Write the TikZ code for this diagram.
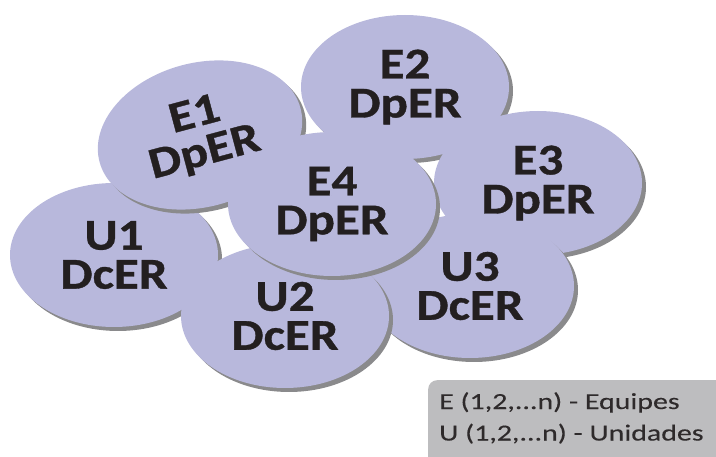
\documentclass[tikz,border=0pt]{standalone}
\usepackage{fontspec}
\setmainfont{Carlito}
\newfontfamily\grossa[FakeStretch=1.16, FakeBold=0.8]{Carlito}
\newfontfamily\larga[FakeStretch=1.3, FakeBold=0.2]{Carlito}
\definecolor{lavanda}{RGB}{184,184,220}
\definecolor{sombra}{RGB}{138,138,140}
\definecolor{legenda}{RGB}{189,189,191}
\definecolor{tinta}{RGB}{35,31,32}
\usetikzlibrary{positioning}
\usetikzlibrary{shapes.geometric, shadows}

\tikzset{
  grupo/.style={ellipse, fill=lavanda, minimum width=208pt, minimum height=144pt,
    inner sep=0pt, text=tinta, align=center,
    font=\fontsize{44}{39}\grossa\bfseries,
    drop shadow={shadow xshift=4pt, shadow yshift=-4pt, fill=sombra, opacity=1}},
  caixa/.style={fill=legenda, rounded corners=9pt, minimum width=320pt, minimum height=110pt,
    inner sep=0pt}
}

\begin{document}
\begin{tikzpicture}[x=1pt, y=-1pt]
  \useasboundingbox (0,0) rectangle (716,457);
  \node[grupo] (e2) at (405,87) {E2\\DpER};
  \node[grupo] (e3) at (538,183) {E3\\DpER};
  \node[grupo] (u3) at (470,286) {U3\\DcER};
  \node[grupo] (u1) at (114,255) {U1\\DcER};
  \node[grupo, rotate=15] (e1) at (200,135) {E1\\DpER};
  \node[grupo] (u2) at (285,316) {U2\\DcER};
  \node[grupo] (e4) at (332,204) {E4\\DpER};
  \node[caixa, anchor=north west] (leg) at (428,380) {};
  \node[anchor=north west, text=tinta!95, align=left, inner sep=0pt,
    font=\fontsize{23}{31.5}\larga] (txt) at (439,392) {E (1,2,...n) - Equipes\\U (1,2,...n) - Unidades};
\end{tikzpicture}
\end{document}
